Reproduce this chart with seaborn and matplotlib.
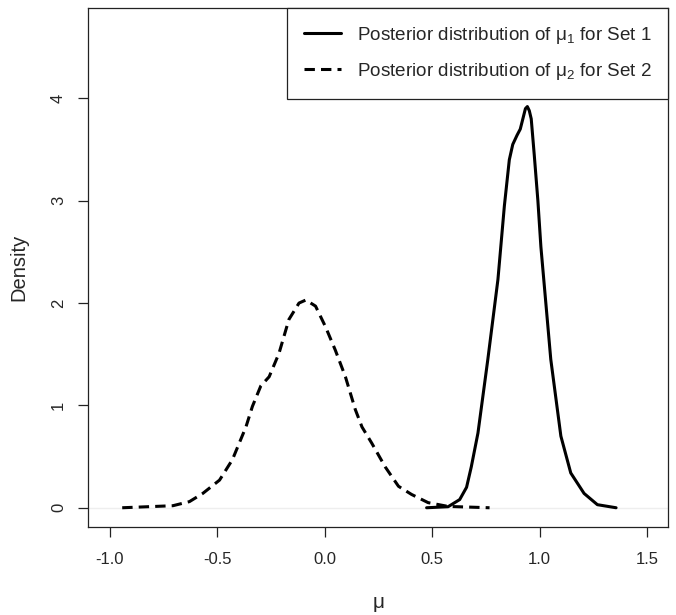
import numpy as np
import pandas as pd
import matplotlib.pyplot as plt
import seaborn as sns

# posterior density of mu_1 (set 1)
mu1_x = [0.474, 0.574, 0.628, 0.660, 0.682, 0.713, 0.759, 0.806, 0.836, 0.859,
         0.875, 0.895, 0.910, 0.922, 0.934, 0.943, 0.952, 0.961, 0.975, 0.992,
         1.006, 1.052, 1.099, 1.145, 1.207, 1.269, 1.356]
mu1_y = [0.0, 0.01, 0.08, 0.20, 0.40, 0.73, 1.45, 2.23, 2.95, 3.40,
         3.55, 3.64, 3.70, 3.80, 3.90, 3.92, 3.88, 3.80, 3.45, 3.00,
         2.55, 1.45, 0.70, 0.34, 0.14, 0.03, 0.0]

# posterior density of mu_2 (set 2)
mu2_x = [-0.943, -0.707, -0.63, -0.568, -0.49, -0.43, -0.367, -0.337, -0.298, -0.259,
         -0.213, -0.167, -0.12, -0.088, -0.043, 0.003, 0.049, 0.096, 0.142, 0.173,
         0.219, 0.281, 0.343, 0.404, 0.481, 0.574, 0.767]
mu2_y = [0.0, 0.02, 0.06, 0.14, 0.27, 0.47, 0.79, 0.99, 1.19, 1.28,
         1.51, 1.84, 2.0, 2.03, 1.97, 1.77, 1.54, 1.28, 0.96, 0.79,
         0.63, 0.40, 0.21, 0.13, 0.05, 0.013, 0.0]

x_ticks = [-1.0, -0.5, 0.0, 0.5, 1.0, 1.5]
x_labels = ['-1.0', '-0.5', '0.0', '0.5', '1.0', '1.5']
y_ticks = [0, 1, 2, 3, 4]

sns.set_style('ticks')
plt.rcParams['font.family'] = ['Liberation Sans', 'DejaVu Sans']
plt.rcParams['mathtext.fontset'] = 'custom'
plt.rcParams['mathtext.rm'] = 'Liberation Sans'
plt.rcParams['mathtext.it'] = 'Liberation Sans'

set1 = pd.DataFrame({'mu': mu1_x, 'density': mu1_y})
set2 = pd.DataFrame({'mu': mu2_x, 'density': mu2_y})

fig = plt.figure(figsize=(6.76, 6.15), dpi=100)
ax = fig.add_axes([0.1309, 0.1431, 0.858, 0.8447])

ax.axhline(0, color='#eeeeee', lw=1, zorder=0)
sns.lineplot(data=set1, x='mu', y='density', ax=ax, color='black', lw=2.2,
             sort=False, solid_joinstyle='round', solid_capstyle='round',
             label=r'Posterior distribution of $\mathrm{\mu}_1$ for Set 1')
sns.lineplot(data=set2, x='mu', y='density', ax=ax, color='black', lw=2.2,
             sort=False, linestyle=(0, (3.4, 2.0)),
             label=r'Posterior distribution of $\mathrm{\mu}_2$ for Set 2')

ax.set_xlim(-1.1, 1.6)
ax.set_ylim(-0.188, 4.888)
ax.set_xticks(x_ticks)
ax.set_xticklabels(x_labels)
ax.set_yticks(y_ticks)
ax.tick_params(axis='both', labelsize=12, length=7.2, width=0.9, pad=9, color='#222222')
ax.tick_params(axis='x', pad=11)
plt.setp(ax.get_yticklabels(), rotation=90, va='center')

ax.set_xlabel(r'$\mathrm{\mu}$', fontsize=15, labelpad=20)
ax.set_ylabel('Density', fontsize=14.5, labelpad=16)

for s in ax.spines.values():
    s.set_linewidth(0.9)
    s.set_color('#222222')

leg = ax.legend(loc='upper right', borderaxespad=0, fancybox=False, framealpha=1,
                edgecolor='#222222', fontsize=13.6, handlelength=2.0, labelspacing=0.8,
                borderpad=0.9, handletextpad=0.8)
leg.get_frame().set_linewidth(0.9)

fig.savefig('out.png', dpi=100)
